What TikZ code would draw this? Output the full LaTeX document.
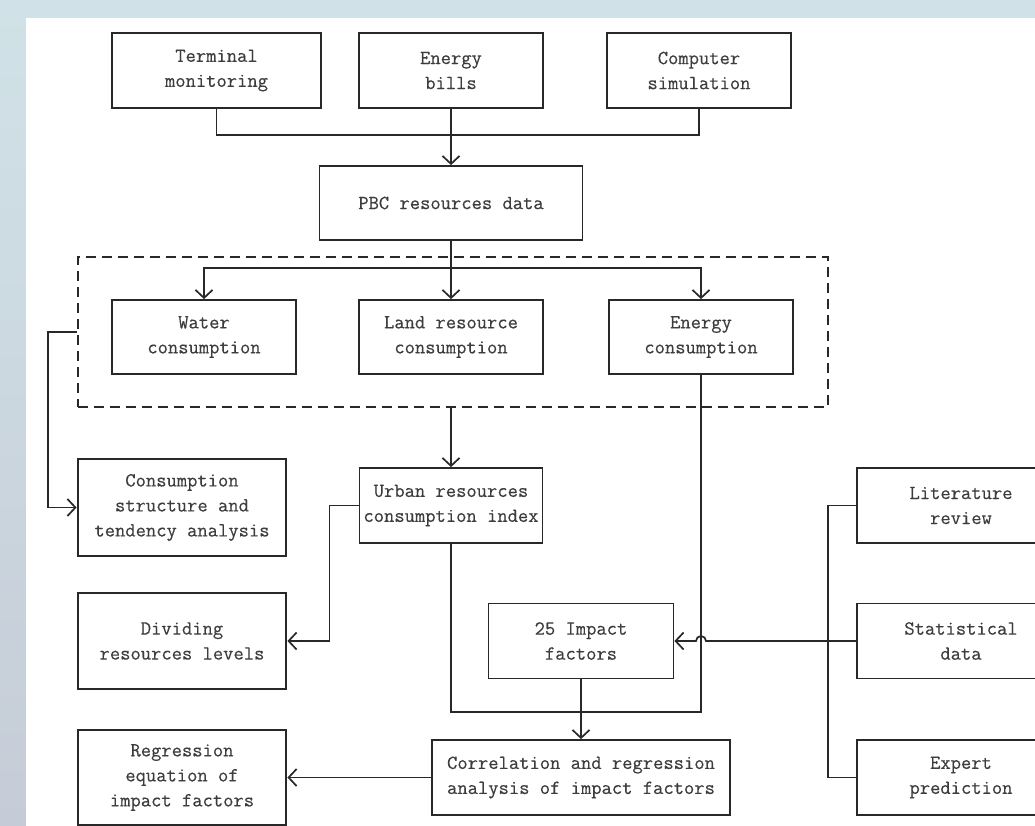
\documentclass[tikz,border=0pt]{standalone}
\usepackage{fontspec}
\newfontfamily\diagfont{Latin Modern Mono}[FakeBold=0.35]
\usetikzlibrary{arrows.meta}
\definecolor{bgtop}{RGB}{208,226,231}
\definecolor{bgbot}{RGB}{198,204,215}
\definecolor{ink}{RGB}{40,40,40}
\begin{document}
\begin{tikzpicture}[x=1pt,y=-1pt,
  every node/.style={font=\diagfont\fontsize{20}{25}\selectfont, text=ink!90, align=center},
  box/.style={draw=ink, line width=1.8pt, rectangle, minimum height=75pt, inner sep=0pt, fill=white},
  tbox/.style={box, line width=2.8pt},
  conn/.style={draw=ink, line width=1.7pt},
  arr/.style={conn, -{Straight Barb[length=8pt,width=17pt,line width=1.7pt]}},
  grpbox/.style={draw=ink, line width=1.8pt, dash pattern=on 10pt off 6pt, minimum width=750pt, minimum height=150pt, inner sep=0pt}]
\useasboundingbox (0,0) rectangle (1035,826);
\clip (0,0) rectangle (1035,826);
\fill[top color=bgtop, bottom color=bgbot] (0,0) rectangle (1035,826);
\fill[white] (26,18) rectangle (1036,827);

\node[box, minimum width=209pt] (tm) at (216.5,70.5) {Terminal\\monitoring};
\node[box, minimum width=184pt] (eb) at (451,70.5) {Energy\\bills};
\node[box, minimum width=184pt] (cs) at (699,70.5) {Computer\\simulation};
\node[box, minimum width=263pt, minimum height=74pt] (pbc) at (451,203) {PBC resources data};
\node[grpbox] (grp) at (453,332) {};
\node[box, minimum width=184pt, minimum height=74pt] (wc) at (204,337) {Water\\consumption};
\node[box, minimum width=184pt, minimum height=74pt] (lc) at (451,337) {Land resource\\consumption};
\node[box, minimum width=184pt, minimum height=74pt] (ec) at (701,337) {Energy\\consumption};
\node[tbox, minimum width=208pt, minimum height=97pt] (cons) at (182,507.5) {Consumption\\structure and\\tendency analysis};
\node[box, minimum width=183pt] (urb) at (451,505.5) {Urban resources\\consumption index};
\node[tbox, minimum width=208pt, minimum height=96pt] (div) at (182,641) {Dividing\\resources levels};
\node[box, minimum width=185pt] (imp) at (581,641) {25 Impact\\factors};
\node[box, minimum width=298pt] (corr) at (581,777.5) {Correlation and regression\\analysis of impact factors};
\node[tbox, minimum width=208pt, minimum height=95pt] (reg) at (182,777.5) {Regression\\equation of\\impact factors};
\node[box, minimum width=208pt] (lit) at (961,505.5) {Literature\\review};
\node[box, minimum width=208pt] (stat) at (961,641) {Statistical\\data};
\node[box, minimum width=208pt] (exp) at (961,777.5) {Expert\\prediction};

\coordinate (j1) at (451,135);
\draw[conn] (tm.south) |- (j1) -| (cs.south);
\draw[arr] (eb.south) -- (pbc.north);
\coordinate (j2) at (451,268);
\draw[arr] (pbc.south) -- (lc.north);
\draw[arr] (j2) -| (wc.north);
\draw[arr] (j2) -| (ec.north);
\draw[arr] (grp.west) -- ++(-29,0) |- (cons.west);
\draw[arr] (lc |- grp.south) -- (urb.north);
\draw[arr] (urb.west) -- ++(-29,0) |- (div.east);
\coordinate (j3) at (581,712);
\draw[conn] (urb.south) |- (j3) -| (ec.south);
\draw[arr] (imp.south) -- (corr.north);
\draw[arr] (stat.west) -- (706,641) arc[start angle=0, end angle=-180, radius=5] -- (imp.east);
\draw[conn] (lit.west) -- ++(-28,0) |- (exp.west);
\draw[arr] (corr.west) -- (reg.east);
\end{tikzpicture}
\end{document}
